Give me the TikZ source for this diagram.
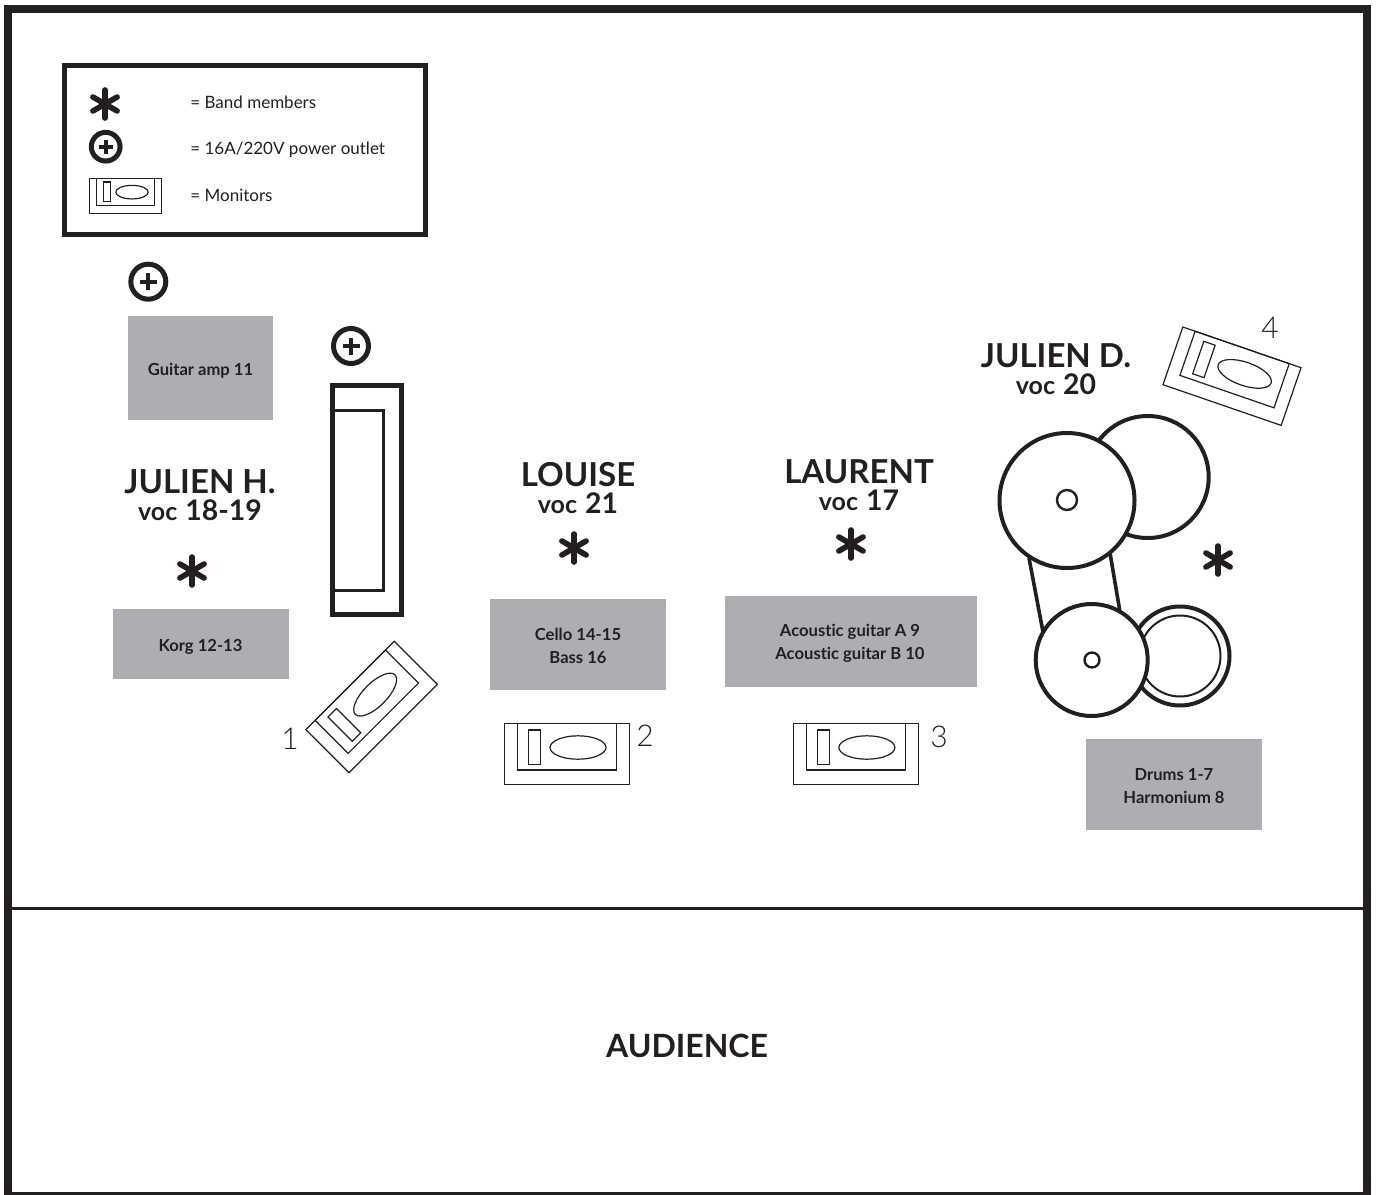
\documentclass[tikz,border=0pt]{standalone}
\usepackage{fontspec}
\setmainfont[Ligatures=NoCommon]{Lato}
\newfontfamily\lightfont{Lato Light}
\definecolor{ampgrey}{HTML}{ADAEB1}
\definecolor{inkblack}{HTML}{231F20}
\newcommand{\vocline}[1]{{\fontsize{12.5}{13.5}\selectfont voc} {\fontsize{14.2}{13.5}\selectfont #1}}
\tikzset{
  membername/.style={font=\bfseries\fontsize{16.5}{13.5}\selectfont,align=center,text=inkblack},
  gearbox/.style={fill=ampgrey,minimum height=0pt},
  gearlabel/.style={font=\bfseries\fontsize{8.3}{11.5}\selectfont,align=center,text=inkblack},
  legendlabel/.style={font=\fontsize{8.5}{11}\selectfont,anchor=base west,inner sep=0pt,text=inkblack},
  monitornum/.style={font=\lightfont\fontsize{15}{15}\selectfont,text=inkblack},
  monitor/.pic={
    \draw[inkblack,line width=0.6pt] (-62.5,-30.5) rectangle (62.5,30.5);
    \draw[inkblack,line width=0.6pt] (-49.5,-30.5) rectangle (50,16.2);
    \draw[inkblack,line width=0.6pt] (-38,-23.8) rectangle (-26,10.5);
    \draw[inkblack,line width=0.6pt] (11.2,-6.3) ellipse[x radius=28,y radius=11.7];
  },
  member/.pic={
    \foreach \a in {90,30,150}{
      \draw[inkblack,line width=2.8pt,line cap=round] (\a:14) -- (\a+180:14);
    }
  },
  outlet/.pic={
    \draw[inkblack,line width=2.5pt] (0,0) circle (17.5);
    \draw[inkblack,line width=2pt] (-8.5,0) -- (8.5,0) (0,-8.5) -- (0,8.5);
  }
}
\begin{document}
\begin{tikzpicture}[x=0.5pt,y=-0.5pt]
\useasboundingbox (0,0) rectangle (1376,1194);

% Frame and audience line
\draw[inkblack,line width=4pt] (8,9) rectangle (1366.7,1196);
\draw[inkblack,line width=1.4pt] (8,908.7) -- (1367,908.7);
\node[font=\bfseries\fontsize{16}{16}\selectfont,text=inkblack] (audience) at (687,1046) {AUDIENCE};

% Legend
\draw[inkblack,line width=2.3pt] (64.5,65.5) rectangle (425.5,234.5);
\pic at (105,104) [scale=1] {member};
\pic at (105.7,146.7) [scale=0.82] {outlet};
\pic at (125.5,195.8) [scale=0.58] {monitor};
\node[legendlabel] (legendmembers) at (190,108) {= Band members};
\node[legendlabel] (legendoutlet) at (190,154) {= 16A/220V power outlet};
\node[legendlabel] (legendmonitors) at (190,201) {= Monitors};

% Power outlets
\pic at (148.3,281.7) {outlet};
\pic at (351,346) {outlet};

% Gear boxes
\node[gearbox,minimum width=72.5pt,minimum height=52pt] (guitaramp) at (200.5,368) {};
\node[gearlabel] (guitarlabel) at (200.5,370.5) {Guitar amp 11};
\node[gearbox,minimum width=88pt,minimum height=35pt] (korg) at (201,644) {};
\node[gearlabel] (korglabel) at (200.5,646.5) {Korg 12-13};
\node[gearbox,minimum width=88pt,minimum height=45.5pt] (cello) at (578,644.5) {};
\node[gearlabel] (cellolabel) at (578,646) {Cello 14-15\\Bass 16};
\node[gearbox,minimum width=126pt,minimum height=45.5pt] (acoustic) at (851,641.5) {};
\node[gearlabel] (acousticlabel) at (850,643) {Acoustic guitar A 9\\Acoustic guitar B 10};
\node[gearbox,minimum width=88pt,minimum height=45.5pt] (drums) at (1174,784.5) {};
\node[gearlabel] (drumslabel) at (1174,786) {Drums 1-7\\Harmonium 8};

% Band members
\node[membername] (julienh) at (200,495) {JULIEN H.\\\vocline{18-19}};
\node[membername] (louise) at (578,488) {LOUISE\\\vocline{21}};
\node[membername] (laurent) at (859,485) {LAURENT\\\vocline{17}};
\node[membername] (juliend) at (1056,369) {JULIEN D.\\\vocline{20}};
\pic at (192,571) {member};
\pic at (574,548) {member};
\pic at (851,544) {member};
\pic at (1218,560) {member};

% Riser next to the keyboard
\draw[inkblack,line width=2.3pt] (332.3,385.6) rectangle (401.4,614.7);
\draw[inkblack,line width=1.5pt] (332.3,410.7) -| (383.5,590) -- (332.3,590);

% Monitors
\pic at (371.7,707) [rotate=45] {monitor};
\pic at (566.8,753.8) {monitor};
\pic at (855.7,753.8) {monitor};
\pic at (1232,376.2) [rotate=-19] {monitor};
\node[monitornum] (mon1) at (290,739) {1};
\node[monitornum] (mon2) at (645,736) {2};
\node[monitornum] (mon3) at (939,737) {3};
\node[monitornum] (mon4) at (1270,328) {4};

% Drum kit
\draw[inkblack,line width=2pt] (1147.7,477) circle (61);
\draw[inkblack,line width=1.8pt] (1029,558) -- (1043,632);
\draw[inkblack,line width=1.8pt] (1110,553) -- (1120,612);
\draw[inkblack,line width=2pt,fill=white] (1067,500.5) circle (67.5);
\draw[inkblack,line width=1.2pt] (1067,500) circle (10);
\draw[inkblack,line width=2pt] (1180,656) circle (49.5);
\draw[inkblack,line width=1pt] (1180,656) circle (40.5);
\draw[inkblack,line width=2pt,fill=white] (1091.7,660) circle (56);
\draw[inkblack,line width=1.2pt] (1092,660) circle (7.5);

\end{tikzpicture}
\end{document}
